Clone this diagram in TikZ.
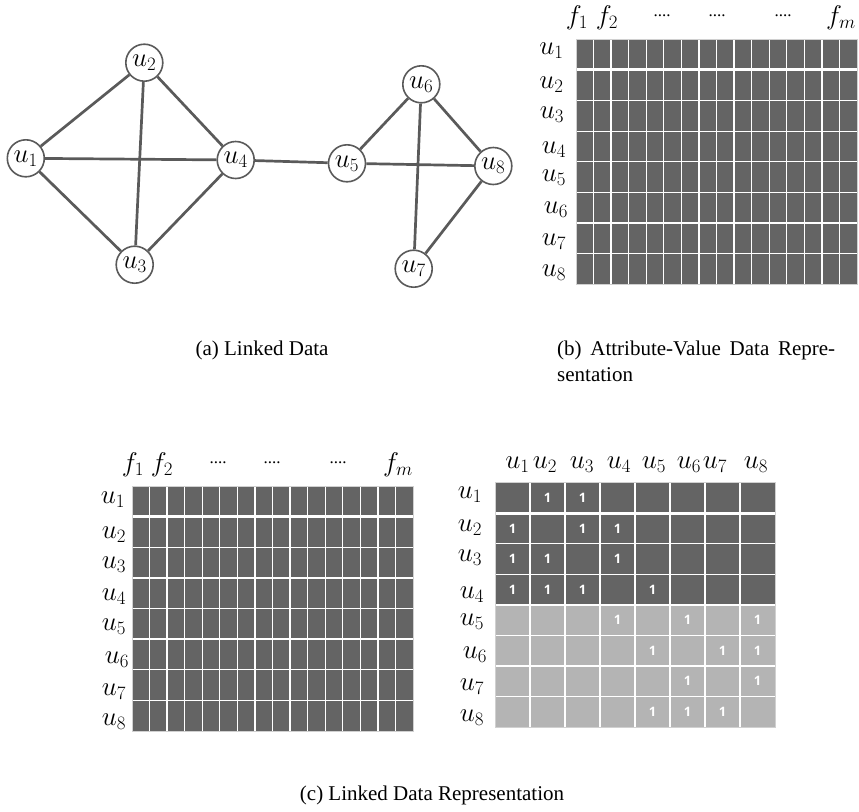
\RequirePackage{fix-cm}
\documentclass[tikz,border=0pt]{standalone}
\usepackage{fontspec}
\setmainfont{Liberation Serif}
\newfontfamily\cellfont{Open Sans}
\definecolor{cellc}{HTML}{646464}
\definecolor{celllight}{HTML}{B4B4B4}
\definecolor{edgec}{HTML}{5A5A5A}
\definecolor{gridborder}{HTML}{D0D0D0}
\tikzset{
  lab/.style={font=\fontsize{27}{32}\selectfont, inner sep=0pt},
  vert/.style={circle, draw=edgec, line width=1.6pt, fill=white, minimum size=37pt, inner sep=0pt, font=\fontsize{27}{32}\selectfont},
  link/.style={draw=edgec, line width=2.7pt},
  captext/.style={font=\fontsize{21}{25.5}\selectfont, inner sep=0pt},
  onelab/.style={text=white, inner sep=0pt, font=\cellfont\bfseries\fontsize{13}{15}\selectfont},
  dotlab/.style={inner sep=0pt, font=\fontsize{17}{19}\selectfont},
  featgrid/.pic={
    \fill[cellc] (0,0) rectangle (281,245);
    \foreach \i in {1,...,15} \draw[white, line width=1.3pt] ({\i*281/16},0) -- ({\i*281/16},245);
    \foreach \j in {2,...,7} \draw[white, line width=1.3pt] (0,{\j*245/8}) -- (281,{\j*245/8});
    \draw[white, line width=3pt] (0,{245/8}) -- (281,{245/8});
    \draw[gridborder, line width=0.8pt] (0,0) rectangle (281,245);
  }
}
\begin{document}
\begin{tikzpicture}[x=1pt,y=-1pt]
\useasboundingbox (0,0) rectangle (859,811);

% ---------- (a) graph ----------
\node[vert] (u1) at (25.8,158.3) {$u_1$};
\node[vert] (u2) at (144.3,62.7) {$u_2$};
\node[vert] (u3) at (134.7,264.7) {$u_3$};
\node[vert] (u4) at (235.7,160) {$u_4$};
\node[vert] (u5) at (347,163.3) {$u_5$};
\node[vert] (u6) at (421.3,84.3) {$u_6$};
\node[vert] (u7) at (413.7,268.7) {$u_7$};
\node[vert] (u8) at (493.3,166) {$u_8$};
\foreach \a/\b in {u1/u2,u1/u4,u1/u3,u2/u4,u2/u3,u3/u4,u4/u5,u5/u6,u5/u8,u6/u8,u6/u7,u7/u8}
  \draw[link] (\a) -- (\b);
\node[captext] (capa) at (262,350) {(a) Linked Data};

% ---------- (b) attribute-value ----------
\pic at (576,39.3) {featgrid};
\node[lab] (bf1) at (577,17.5) {$f_1$};
\node[lab] (bf2) at (607,17.5) {$f_2$};
\node[dotlab] (bd1) at (662,16) {....};
\node[dotlab] (bd2) at (717,16) {....};
\node[dotlab] (bd3) at (783,16) {....};
\node[lab] (bfm) at (841,17.5) {$f_m$};
\foreach \k/\x/\y in {1/551.5/51,2/551.5/85,3/552/115,4/554/150,5/554/178,6/556/210,7/554/242,8/554/273}
  \node[lab] (bu\k) at (\x,\y) {$u_\k$};
\node[captext, text width=278pt, align=justify, anchor=north west] (capb) at (557,341)
  {(b) Attribute-Value Data Repre-\linebreak sentation};

% ---------- (c) left feature grid ----------
\pic at (132,486) {featgrid};
\node[lab] (cf1) at (133,465) {$f_1$};
\node[lab] (cf2) at (162,465) {$f_2$};
\node[dotlab] (cd1) at (218,463) {....};
\node[dotlab] (cd2) at (272,463) {....};
\node[dotlab] (cd3) at (338,463) {....};
\node[lab] (cfm) at (398,465) {$f_m$};
\foreach \k/\x/\y in {1/113/500,2/114/535,3/114/565,4/114/597,5/114/627,6/117/660,7/114/692,8/114/722}
  \node[lab] (cu\k) at (\x,\y) {$u_\k$};

% ---------- (c) right adjacency grid ----------
\fill[cellc] (495,482.7) rectangle (775,605);
\fill[celllight] (495,605) rectangle (775,727);
\foreach \i in {1,...,7} \draw[white, line width=1.6pt] ({495+\i*35},482.7) -- ({495+\i*35},727);
\foreach \j in {2,...,7} \draw[white, line width=1.3pt] (495,{482.7+\j*30.54}) -- (775,{482.7+\j*30.54});
\draw[white, line width=3pt] (495,{482.7+30.54}) -- (775,{482.7+30.54});
\draw[gridborder, line width=0.8pt] (495,482.7) rectangle (775,727);
\foreach \k/\x in {1/517.5,2/545,3/582,4/619,5/654,6/689,7/715,8/756}
  \node[lab] (au\k) at (\x,465) {$u_\k$};
\foreach \k/\x/\y in {1/470/495,2/470/528,3/470/558,4/472/595,5/472/622,6/475/655,7/472/687,8/472/718}
  \node[lab] (ru\k) at (\x,\y) {$u_\k$};
\foreach \c/\r in {2/1,3/1,1/2,3/2,4/2,1/3,2/3,4/3,1/4,2/4,3/4,5/4,4/5,6/5,8/5,5/6,7/6,8/6,6/7,8/7,5/8,6/8,7/8}
  \node[onelab] (one\c\r) at ({495+(\c-0.5)*35},{482.7+(\r-0.5)*30.54}) {1};

\node[captext] (capc) at (432,795) {(c) Linked Data Representation};
\end{tikzpicture}
\end{document}
